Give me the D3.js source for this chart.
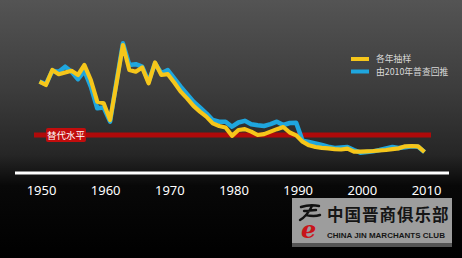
<!DOCTYPE html>
<html>
<head>
<meta charset="utf-8">
<script src="https://cdn.jsdelivr.net/npm/d3@7"></script>
<style>
  html, body { margin: 0; padding: 0; background: #000; }
  svg { display: block; }
</style>
</head>
<body>
<div id="chart"></div>
<script>
// years 1950-2010
const years = d3.range(1950, 2011);

// 各年抽样 (annual sample surveys)
const sampleTFR = [
  5.3, 5.1, 6.0, 5.75, 5.85, 5.95, 5.7, 6.3, 5.4, 4.1,
  4.0, 3.0, 5.2, 7.5, 6.0, 5.9, 6.15, 5.2, 6.45, 5.7,
  5.75, 5.25, 4.7, 4.3, 3.85, 3.5, 3.2, 2.8, 2.64, 2.55,
  2.05, 2.4, 2.45, 2.3, 2.1, 2.15, 2.3, 2.45, 2.58, 2.25,
  2.08, 1.7, 1.48, 1.38, 1.33, 1.3, 1.25, 1.23, 1.28, 1.1,
  1.1, 1.12, 1.14, 1.17, 1.2, 1.25, 1.3, 1.42, 1.44, 1.42,
  1.08
];

// 由2010年普查回推 (back-projected from 2010 census)
const censusTFR = [
  5.3, 5.15, 5.95, 5.9, 6.2, 5.9, 5.45, 5.95, 5.0, 3.7,
  3.75, 2.9, 5.3, 7.6, 6.3, 6.35, 6.2, 5.3, 6.4, 5.8,
  6.0, 5.5, 5.0, 4.55, 4.1, 3.75, 3.4, 3.0, 2.9, 2.9,
  2.6, 2.85, 2.95, 2.75, 2.68, 2.64, 2.75, 2.9, 2.7, 2.82,
  2.84, 1.75, 1.68, 1.6, 1.5, 1.4, 1.32, 1.35, 1.38, 1.2,
  1.04, 1.08, 1.12, 1.2, 1.3, 1.38, 1.32, 1.36, 1.42, 1.4,
  1.08
];

const replacementLevel = 2.1;
const tickYears = [1950, 1960, 1970, 1980, 1990, 2000, 2010];
const legendLabels = ["各年抽样", "由2010年普查回推"];
const refLabel = "替代水平";

const width = 462, height = 258;
const yellow = "#f6c61a", blue = "#1fa6de", red = "#b00a0a";

const x = d3.scaleLinear().domain([1950, 2010]).range([39.5, 424.5]);
const y = d3.scaleLinear().domain([0, 7.5]).range([170, 45]);

const svg = d3.select("#chart").append("svg")
    .attr("width", width)
    .attr("height", height);

// background
const defs = svg.append("defs");
const bg = defs.append("linearGradient")
    .attr("id", "bg").attr("x1", 0).attr("y1", 0).attr("x2", 0).attr("y2", 1);
bg.append("stop").attr("offset", "0%").attr("stop-color", "#545454");
bg.append("stop").attr("offset", "35%").attr("stop-color", "#3c3c3c");
bg.append("stop").attr("offset", "60%").attr("stop-color", "#262626");
bg.append("stop").attr("offset", "72%").attr("stop-color", "#080808");
bg.append("stop").attr("offset", "100%").attr("stop-color", "#000");
svg.append("rect").attr("width", width).attr("height", height).attr("fill", "url(#bg)");

// replacement level line
svg.append("line")
    .attr("x1", 34).attr("x2", 431)
    .attr("y1", y(replacementLevel)).attr("y2", y(replacementLevel))
    .attr("stroke", red).attr("stroke-width", 5);

const refG = svg.append("g").attr("transform", `translate(46,${y(replacementLevel)})`);
refG.append("rect")
    .attr("x", 0).attr("y", -7).attr("width", 40).attr("height", 14)
    .attr("rx", 2).attr("fill", "#c20d0d");
refG.append("text")
    .attr("x", 20).attr("y", 3.5)
    .attr("text-anchor", "middle")
    .attr("font-family", "Noto Sans CJK SC")
    .attr("font-size", 9.5)
    .attr("fill", "#fff")
    .text(refLabel);

const line = d3.line()
    .x((d, i) => x(years[i]))
    .y(d => y(d));

svg.append("path")
    .datum(censusTFR)
    .attr("d", line)
    .attr("fill", "none")
    .attr("stroke", blue)
    .attr("stroke-width", 4.5)
    .attr("stroke-linejoin", "round");

svg.append("path")
    .datum(sampleTFR)
    .attr("d", line)
    .attr("fill", "none")
    .attr("stroke", yellow)
    .attr("stroke-width", 4.2)
    .attr("stroke-linejoin", "round");

// x axis
svg.append("line")
    .attr("x1", 15).attr("x2", 449)
    .attr("y1", 173).attr("y2", 173)
    .attr("stroke", "#fff").attr("stroke-width", 3);

svg.append("g")
    .selectAll("text")
    .data(tickYears)
    .join("text")
    .attr("x", d => x(d) + 2)
    .attr("y", 195)
    .attr("text-anchor", "middle")
    .attr("font-family", "Noto Sans, sans-serif")
    .attr("font-size", 13)
    .attr("fill", "#fff")
    .text(d => d);

// legend
const legend = svg.append("g").attr("transform", "translate(351,59)");
legend.selectAll("g")
    .data([yellow, blue])
    .join("g")
    .attr("transform", (d, i) => `translate(0,${i * 12.5})`)
    .each(function (c, i) {
        const g = d3.select(this);
        g.append("line")
            .attr("x1", 0).attr("x2", 18)
            .attr("stroke", c).attr("stroke-width", 4);
        g.append("text")
            .attr("x", 25).attr("y", 3.2)
            .attr("font-family", "Noto Sans CJK SC")
            .attr("font-size", 8.8)
            .attr("fill", "#d8d8d8")
            .text(legendLabels[i]);
    });

// watermark
const wm = svg.append("g").attr("transform", "translate(292,198)");
wm.append("rect").attr("x", 0).attr("y", 44).attr("width", 160).attr("height", 5).attr("fill", "#555");
wm.append("rect").attr("width", 160).attr("height", 45).attr("fill", "#9d9d9d");
wm.append("path")
    .attr("d", "M9,9 Q18,6 27,8 M12,13 L24,12 M20,8 Q15,18 8,22 M14,17 Q22,19 28,17")
    .attr("fill", "none")
    .attr("stroke", "#111")
    .attr("stroke-width", 2.4)
    .attr("stroke-linecap", "round");
wm.append("text")
    .attr("x", 9).attr("y", 40)
    .attr("font-family", "DejaVu Serif, serif")
    .attr("font-style", "italic")
    .attr("font-weight", "bold")
    .attr("font-size", 24)
    .attr("fill", "#c8141a")
    .text("e");
wm.append("text")
    .attr("x", 35).attr("y", 23)
    .attr("font-family", "Noto Sans CJK SC")
    .attr("font-weight", "bold")
    .attr("font-size", 16.5)
    .attr("letter-spacing", 1)
    .attr("fill", "#151515")
    .text("中国晋商俱乐部");
wm.append("text")
    .attr("x", 35).attr("y", 40)
    .attr("font-family", "Liberation Sans, sans-serif")
    .attr("font-weight", "bold")
    .attr("font-size", 8)
    .attr("fill", "#151515")
    .text("CHINA JIN MARCHANTS CLUB");
</script>
</body>
</html>
